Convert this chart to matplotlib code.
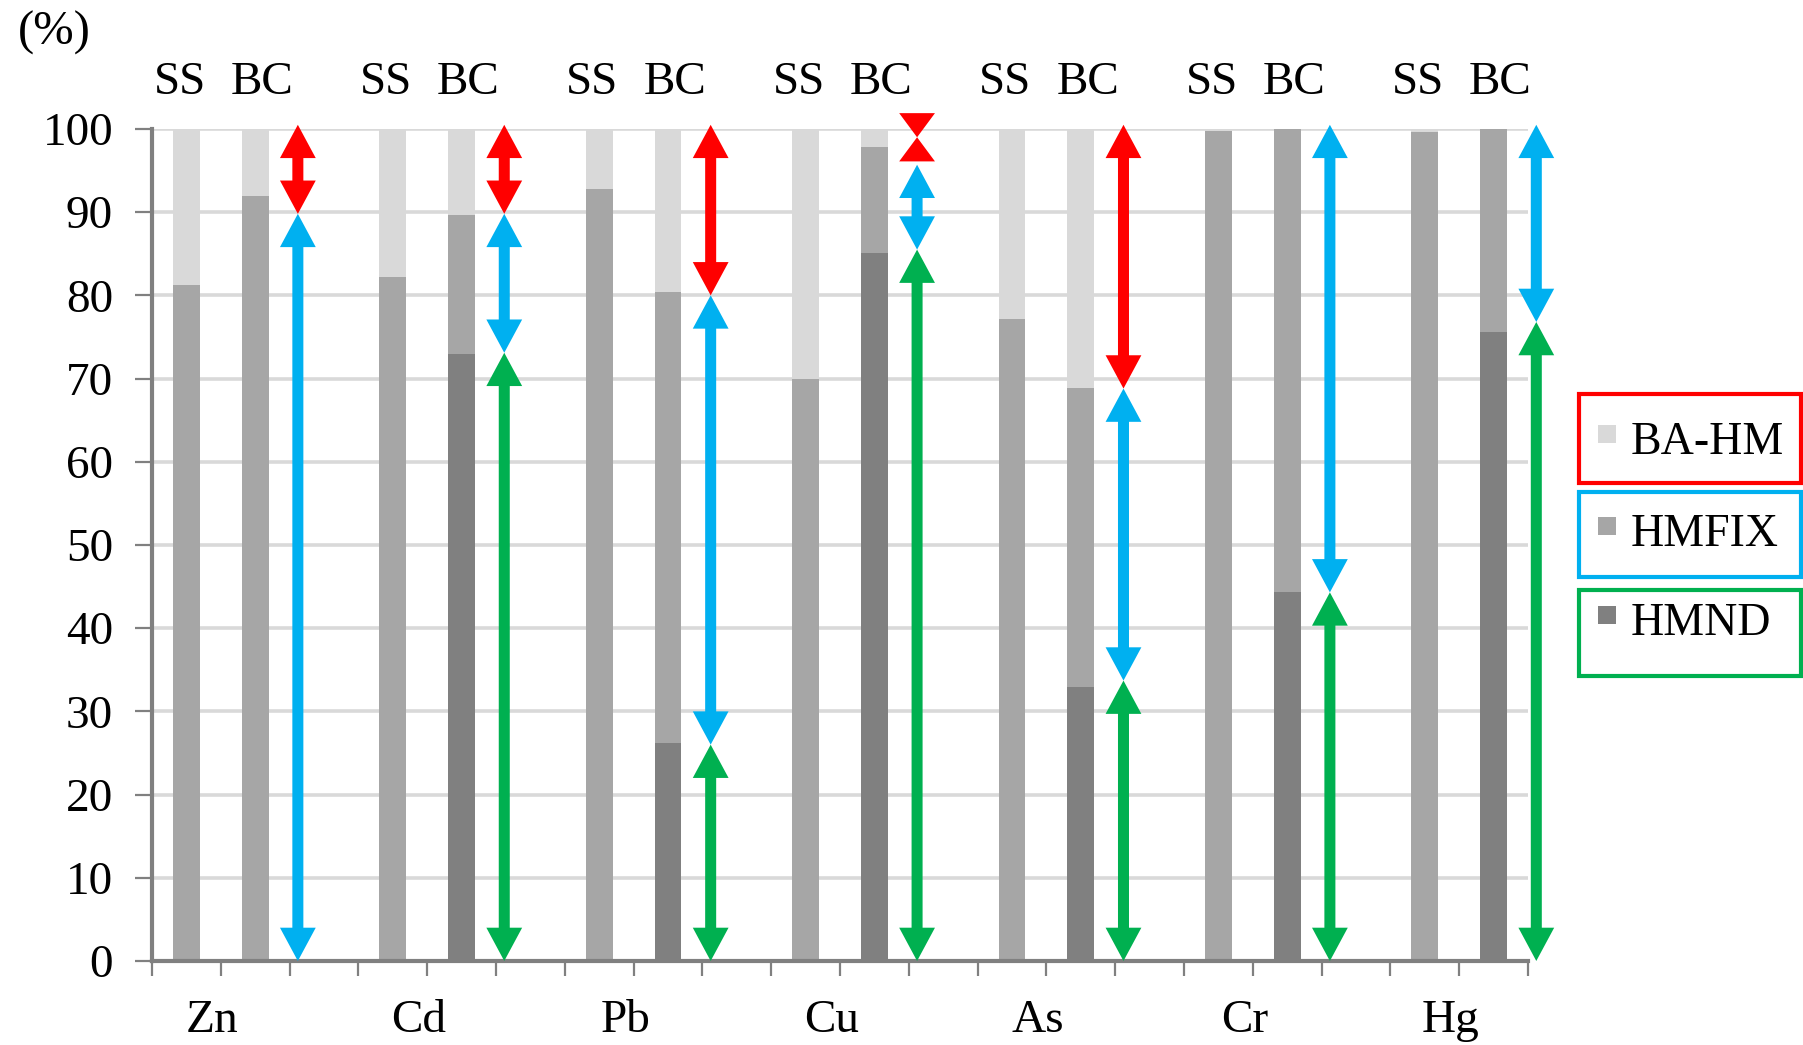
import numpy as np
import matplotlib.pyplot as plt
from matplotlib.patches import Rectangle, Polygon

plt.rcParams['font.family'] = ['Liberation Serif', 'DejaVu Serif']

metals = ["Zn", "Cd", "Pb", "Cu", "As", "Cr", "Hg"]

# SS bars (%)
ss_hmnd = [0, 0, 0, 0, 0, 0, 0]
ss_hmfix = [81.2, 82.2, 92.8, 70.0, 77.2, 99.8, 99.6]
ss_bahm = [18.8, 17.8, 7.2, 30.0, 22.8, 0.2, 0.4]

# BC bars (%)
bc_hmnd = [0, 72.9, 26.2, 85.1, 32.9, 44.3, 75.6]
bc_hmfix = [92.0, 16.7, 54.2, 12.7, 36.0, 55.7, 24.4]
bc_bahm = [8.0, 10.4, 19.6, 2.2, 31.1, 0, 0]

# double arrows next to each BC bar: (top, bottom), None = no arrow
red_arrows = [(100.5, 89.8), (100.5, 89.8), (100.5, 80.0), (101.9, 96.1), (100.5, 68.8), None, None]
blue_arrows = [(89.8, 0), (89.8, 73.1), (80.0, 26.0), (95.7, 85.5), (68.8, 33.7), (100.5, 44.3), (100.5, 76.8)]
green_arrows = [None, (73.1, 0), (26.0, 0), (85.5, 0), (33.7, 0), (44.3, 0), (76.8, 0)]

legend_labels = ["BA-HM", "HMFIX", "HMND"]

c_bahm = "#D9D9D9"
c_hmfix = "#A6A6A6"
c_hmnd = "#808080"
c_red = "#FF0000"
c_blue = "#00B0F0"
c_green = "#00B050"

fs = 34


def doubleArrow(ax, x, top, bottom, color):
    hw = 0.26
    sw = 0.08
    hl = 4.0
    if top - bottom > 2 * hl:
        pts = [(x, top), (x + hw, top - hl), (x + sw, top - hl), (x + sw, bottom + hl),
               (x + hw, bottom + hl), (x, bottom), (x - hw, bottom + hl), (x - sw, bottom + hl),
               (x - sw, top - hl), (x - hw, top - hl)]
    else:
        mid = (top + bottom) / 2
        pts = [(x - hw, top), (x + hw, top), (x, mid), (x + hw, bottom), (x - hw, bottom), (x, mid)]
    ax.add_patch(Polygon(pts, closed=True, facecolor=color, edgecolor="none",
                         zorder=5, clip_on=False))


fig = plt.figure(figsize=(18.03, 10.45), dpi=100)
ax = fig.add_axes([0.0843, 0.0804, 0.7632, 0.7962])

w = 0.39
for g in range(len(metals)):
    xs = 3 * g
    xb = 3 * g + 1
    ax.bar(xs, ss_hmnd[g], w, color=c_hmnd, zorder=2)
    ax.bar(xs, ss_hmfix[g], w, bottom=ss_hmnd[g], color=c_hmfix, zorder=2)
    ax.bar(xs, ss_bahm[g], w, bottom=ss_hmnd[g] + ss_hmfix[g], color=c_bahm, zorder=2)
    ax.bar(xb, bc_hmnd[g], w, color=c_hmnd, zorder=2)
    ax.bar(xb, bc_hmfix[g], w, bottom=bc_hmnd[g], color=c_hmfix, zorder=2)
    ax.bar(xb, bc_bahm[g], w, bottom=bc_hmnd[g] + bc_hmfix[g], color=c_bahm, zorder=2)

    xa = 3 * g + 1.62
    for arr, col in [(red_arrows[g], c_red), (blue_arrows[g], c_blue), (green_arrows[g], c_green)]:
        if arr is not None:
            doubleArrow(ax, xa, arr[0], arr[1], col)

    ax.text(xs - 0.1, 105.5, "SS", ha="center", va="center", fontsize=fs)
    ax.text(xb + 0.1, 105.5, "BC", ha="center", va="center", fontsize=fs)
    ax.text(3 * g + 0.38, -7.2, metals[g], ha="center", va="center", fontsize=fs)

ax.set_xlim(-0.5, 19.5)
ax.set_ylim(0, 100)
ax.set_xticks(np.arange(-0.5, 20, 1))
ax.set_xticklabels([])
ax.set_yticks(np.arange(0, 101, 10))
ax.tick_params(axis="both", direction="out", length=12, width=1.6, color="#808080",
               labelsize=fs, pad=16)
ax.tick_params(axis="x", length=11)
ax.yaxis.grid(True, color="#D9D9D9", lw=2.6)
ax.set_axisbelow(True)
for s in ["top", "right"]:
    ax.spines[s].set_visible(False)
for s in ["left", "bottom"]:
    ax.spines[s].set_color("#808080")
    ax.spines[s].set_linewidth(3)

fig.text(0.030, 0.969, "(%)", ha="center", va="center", fontsize=fs + 1)

# legend boxes
boxes = [(0.5378, 0.0852, c_red, c_bahm, 0.579),
         (0.4478, 0.0813, c_blue, c_hmfix, 0.491),
         (0.3531, 0.0823, c_green, c_hmnd, 0.406)]
for i in range(3):
    y0, h, ec, fc, ty = boxes[i]
    fig.patches.append(Rectangle((0.8758, y0), 0.1231, h, transform=fig.transFigure,
                                 facecolor="white", edgecolor=ec, lw=3))
    fig.patches.append(Rectangle((0.8863, ty - 0.003), 0.0100, 0.0172, transform=fig.transFigure,
                                 facecolor=fc, edgecolor="none"))
    fig.text(0.9046, ty - 0.003, legend_labels[i], ha="left", va="center", fontsize=fs - 1)

fig.savefig("out.png", dpi=100)
